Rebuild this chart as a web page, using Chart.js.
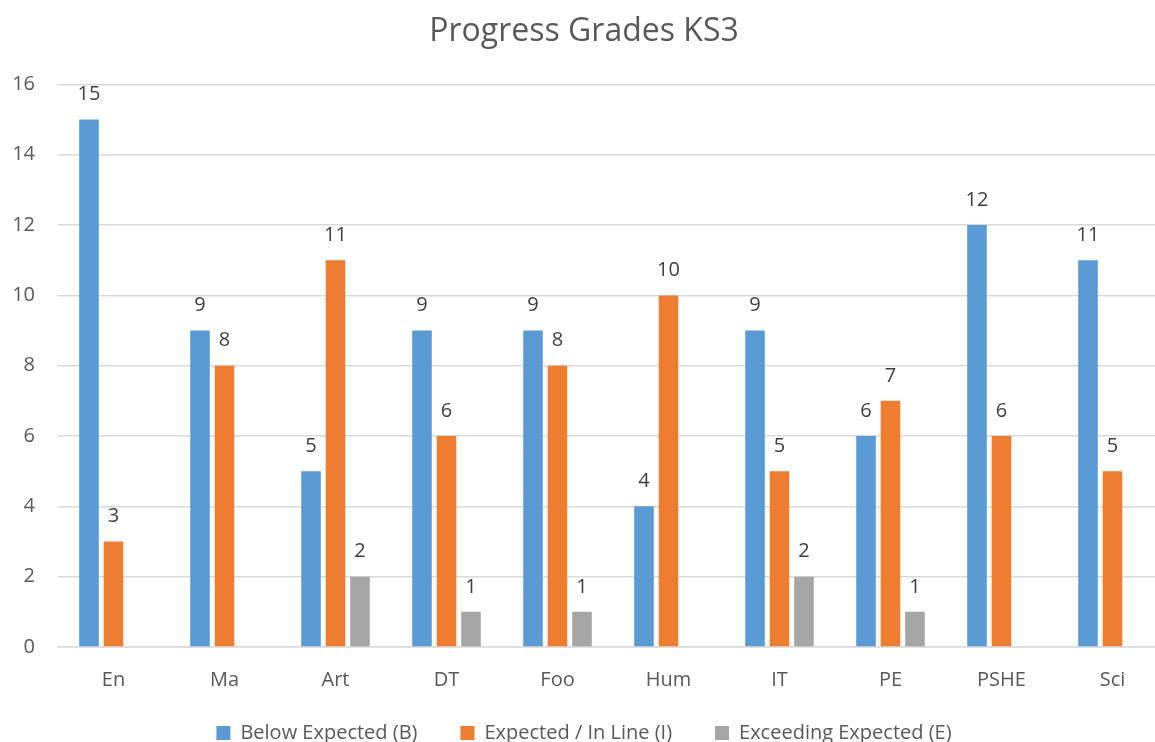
<!DOCTYPE html>
<html>
<head>
<meta charset="utf-8">
<script src="https://cdn.jsdelivr.net/npm/chart.js@4/dist/chart.umd.min.js"></script>
<style>
  html, body { margin: 0; padding: 0; background: #fff; overflow: hidden; }
  #wrap { width: 1190px; height: 789px; }
</style>
</head>
<body>
<div id="wrap"><canvas id="chart" width="1190" height="789"></canvas></div>
<script>
// chart values
const subjects = ['En', 'Ma', 'Art', 'DT', 'Foo', 'Hum', 'IT', 'PE', 'PSHE', 'Sci'];
const below = [15, 9, 5, 9, 9, 4, 9, 6, 12, 11];
const expected = [3, 8, 11, 6, 8, 10, 5, 7, 6, 5];
const exceeding = [null, null, 2, 1, 1, null, 2, 1, null, null];
const yTicks = [0, 2, 4, 6, 8, 10, 12, 14, 16];

const FONT = "'Open Sans', 'Noto Sans', sans-serif";

// value labels over each bar
const barLabels = {
  id: 'barLabels',
  afterDatasetsDraw(chart) {
    const ctx = chart.ctx;
    ctx.save();
    ctx.font = '20px ' + FONT;
    ctx.fillStyle = '#404040';
    ctx.textAlign = 'center';
    ctx.textBaseline = 'middle';
    chart.data.datasets.forEach((ds, i) => {
      const meta = chart.getDatasetMeta(i);
      meta.data.forEach((bar, j) => {
        const v = ds.data[j];
        if (v === null || v === undefined) return;
        ctx.fillText(String(v), bar.x, bar.y - 25);
      });
    });
    ctx.restore();
  }
};

// pull the legend closer to the axis labels (legend padding is wide for the item gaps)
const legendNudge = {
  id: 'legendNudge',
  afterLayout(chart) {
    if (!chart.legend) return;
    chart.legend.top -= 33;
    chart.legend.bottom -= 33;
  }
};

new Chart(document.getElementById('chart'), {
  type: 'bar',
  data: {
    labels: subjects,
    datasets: [
      { label: 'Below Expected (B)', data: below, backgroundColor: '#5B9BD5' },
      { label: 'Expected / In Line (I)', data: expected, backgroundColor: '#ED7D31' },
      { label: 'Exceeding Expected (E)', data: exceeding, backgroundColor: '#A5A5A5' }
    ]
  },
  options: {
    responsive: false,
    animation: false,
    layout: { padding: { left: 0, right: 22, top: 6, bottom: 3 } },
    datasets: {
      bar: { categoryPercentage: 0.662, barPercentage: 0.8 }
    },
    scales: {
      x: {
        grid: { display: false, drawTicks: false },
        border: { color: '#D9D9D9', width: 1.5 },
        ticks: { color: '#595959', font: { family: FONT, size: 20 }, padding: 21, maxRotation: 0 }
      },
      y: {
        min: 0,
        max: 16,
        afterBuildTicks(axis) { axis.ticks = yTicks.map(v => ({ value: v })); },
        afterFit(axis) { axis.width = 58; },
        grid: { color: '#D9D9D9', lineWidth: 1.5, drawTicks: false },
        border: { display: false },
        ticks: { color: '#595959', font: { family: FONT, size: 20 }, padding: 23 }
      }
    },
    plugins: {
      title: {
        display: true,
        text: 'Progress Grades KS3',
        color: '#595959',
        font: { family: FONT, size: 32, weight: 'normal' },
        padding: { top: 7, bottom: 33 }
      },
      legend: {
        position: 'bottom',
        labels: {
          color: '#595959',
          font: { family: FONT, size: 20 },
          boxWidth: 14,
          boxHeight: 14,
          padding: 43
        }
      },
      tooltip: { enabled: false }
    }
  },
  plugins: [barLabels, legendNudge]
});
</script>
</body>
</html>
